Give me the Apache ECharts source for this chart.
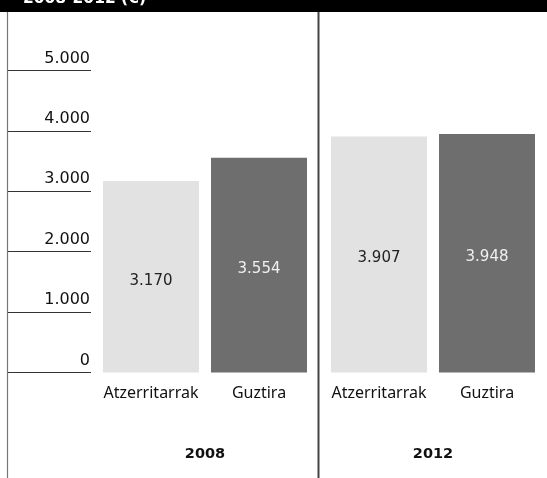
<!DOCTYPE html>
<html>
<head>
<meta charset="utf-8">
<script src="https://cdn.jsdelivr.net/npm/echarts@6/dist/echarts.min.js"></script>
<style>html,body{margin:0;padding:0;background:#fff}#c{width:547px;height:478px}</style>
</head>
<body>
<div id="c"></div>
<script>
const titleText = '2008-2012 (€)';
const years = ['2008', '2012'];
const seriesNames = ['Atzerritarrak', 'Guztira'];
const atzerritarrak = [3170, 3907];
const guztira = [3554, 3948];
const yTicks = [0, 1000, 2000, 3000, 4000, 5000];

const FONT = 'Noto Sans';
const NUMFONT = 'DejaVu Sans';
const fmt = v => String(v).replace(/\B(?=(\d{3})+(?!\d))/g, '.');

const chart = echarts.init(document.getElementById('c'), null, {renderer: 'canvas'});
const barW = 96, gap = '12.5%';

function mainSeries(name, data, color, textColor) {
  return {
    type: 'bar', name, data, xAxisIndex: 0, yAxisIndex: 0,
    barWidth: barW, barGap: gap,
    itemStyle: {color},
    silent: true,
    label: {show: true, position: 'inside', offset: [0, 4], formatter: p => fmt(p.value),
      color: textColor, fontFamily: NUMFONT, fontSize: 15}
  };
}
function nameSeries(name, data) {
  return {
    type: 'bar', name: name + ' ', data, xAxisIndex: 1, yAxisIndex: 0,
    barWidth: barW, barGap: gap,
    itemStyle: {color: 'rgba(0,0,0,0)'},
    silent: true, z: 1,
    label: {show: true, position: 'bottom', distance: 13, formatter: () => name,
      color: '#111', fontFamily: FONT, fontSize: 16}
  };
}

chart.setOption({
  animation: false,
  title: {text: titleText, left: 18, top: -14,
    textStyle: {color: '#fff', fontFamily: NUMFONT, fontWeight: 'bold', fontSize: 15.5}},
  graphic: [
    {type: 'rect', shape: {x: 0, y: 0, width: 547, height: 12}, style: {fill: '#000'}, z: -1},
    {type: 'line', shape: {x1: 7.5, y1: 12, x2: 7.5, y2: 478}, style: {stroke: '#777', lineWidth: 1.2}},
    {type: 'line', shape: {x1: 318.5, y1: 12, x2: 318.5, y2: 478}, style: {stroke: '#444', lineWidth: 2}}
  ],
  grid: {left: 91, right: 0, top: 70.5, bottom: 105.5, containLabel: false, outerBoundsMode: 'none'},
  xAxis: [
    {type: 'category', data: years, axisLine: {show: false}, axisTick: {show: false},
      axisLabel: {margin: 74, color: '#111', fontFamily: NUMFONT, fontWeight: 'bold', fontSize: 14.5},
      splitLine: {show: false}},
    {type: 'category', data: years, show: false}
  ],
  yAxis: {
    type: 'value', min: yTicks[0], max: yTicks[yTicks.length - 1], interval: 1000,
    axisLine: {show: false},
    axisTick: {show: true, length: 83, lineStyle: {color: '#333', width: 1}},
    splitLine: {show: false},
    axisLabel: {margin: 1, align: 'right', verticalAlign: 'bottom', padding: [0, 0, 4, 0],
      formatter: v => fmt(v), color: '#111', fontFamily: NUMFONT, fontSize: 16}
  },
  series: [
    mainSeries(seriesNames[0], atzerritarrak, '#e2e2e2', '#222'),
    mainSeries(seriesNames[1], guztira, '#6e6e6e', '#f0f0f0'),
    nameSeries(seriesNames[0], atzerritarrak),
    nameSeries(seriesNames[1], guztira)
  ]
});
</script>
</body>
</html>
